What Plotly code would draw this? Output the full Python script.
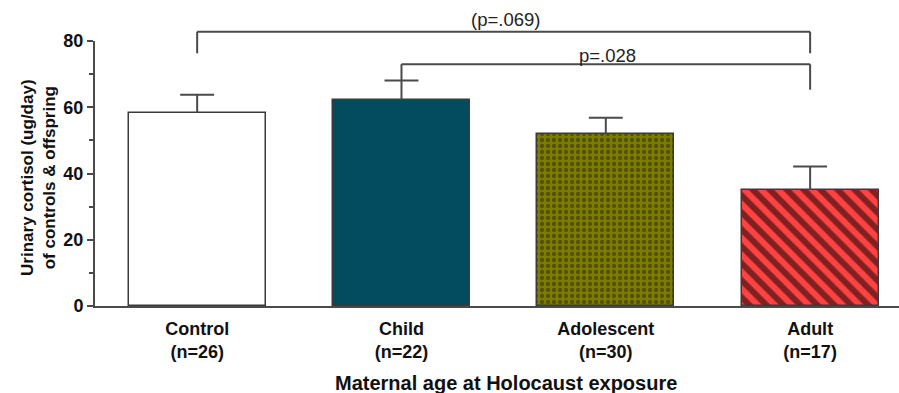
import plotly.graph_objects as go

# Urinary cortisol by maternal age at Holocaust exposure
groups = ["Control", "Child", "Adolescent", "Adult"]
n_sizes = [26, 22, 30, 17]
means = [58.3, 62.3, 51.8, 35.0]
sem = [5.5, 5.8, 5.0, 7.1]

y_ticks = [0, 20, 40, 60, 80]
y_minor = [10, 30, 50, 70]
Y_MAX = 80

# Significance brackets: (left group, right group, bar height, left leg end, right leg end, label, label y)
brackets = [
    (0, 3, 82.8, 76.3, 76.3, "(p=.069)", 86.4),
    (1, 3, 73.0, 68.1, 65.3, "p=.028", 75.6),
]

FONT = "Liberation Sans, Arial, sans-serif"
LINE = "#4a4a4a"
X_RANGE = [-0.5, 3.435]
BAR_W = 0.67
CAP_HALF = 0.083  # half-length of the error-bar cap, in category units

fig = go.Figure()

fills = ["#ffffff", "#034b5f", "#7c7c00", "#ff4242"]
patterns = [
    dict(shape=""),
    dict(shape=""),
    dict(shape=".", fgcolor="#262600", bgcolor="#7c7c00", size=6, solidity=0.4, fillmode="overlay"),
    dict(shape="\\", fgcolor="#000000", bgcolor="#ff4242", size=12, solidity=0.5, fillmode="overlay"),
]

for i, g in enumerate(groups):
    fig.add_trace(go.Bar(
        x=[i], y=[means[i]], width=BAR_W,
        marker=dict(color=fills[i], line=dict(color="#3a3a3a", width=1.5), pattern=patterns[i]),
        showlegend=False, hoverinfo="skip",
    ))


def py(v):
    return v / Y_MAX


shapes = []
annotations = []

# one-sided (upper) SEM bars
for i, (m, e) in enumerate(zip(means, sem)):
    shapes.append(dict(type="line", xref="x", yref="y", x0=i, x1=i, y0=m, y1=m + e,
                       line=dict(color=LINE, width=2)))
    shapes.append(dict(type="line", xref="x", yref="y", x0=i - CAP_HALF, x1=i + CAP_HALF,
                       y0=m + e, y1=m + e, line=dict(color=LINE, width=2)))

for a, b, top, la, lb, label, ly in brackets:
    shapes.append(dict(type="line", xref="x", yref="paper", x0=a, x1=b, y0=py(top), y1=py(top),
                       line=dict(color=LINE, width=2)))
    shapes.append(dict(type="line", xref="x", yref="paper", x0=a, x1=a, y0=py(top), y1=py(la),
                       line=dict(color=LINE, width=2)))
    shapes.append(dict(type="line", xref="x", yref="paper", x0=b, x1=b, y0=py(top), y1=py(lb),
                       line=dict(color=LINE, width=2)))
    annotations.append(dict(x=(a + b) / 2 + 0.01, y=py(ly), xref="x", yref="paper", text=label,
                            showarrow=False, xanchor="center", yanchor="middle",
                            font=dict(family=FONT, size=18.5, color="#222222")))

annotations.append(dict(x=0.511, y=-0.29, xref="paper", yref="paper",
                        text="Maternal age at Holocaust exposure", showarrow=False,
                        xanchor="center", yanchor="middle",
                        font=dict(family=FONT, size=20, color="#111111", weight="bold")))
annotations.append(dict(x=-0.071, y=0.483, xref="paper", yref="paper",
                        text="Urinary cortisol (ug/day)<br>of controls & offspring", showarrow=False,
                        textangle=-90, xanchor="center", yanchor="middle",
                        font=dict(family=FONT, size=17, color="#111111", weight="bold")))

fig.update_layout(
    width=899, height=393,
    margin=dict(l=95, r=0, t=41, b=87),
    plot_bgcolor="white", paper_bgcolor="white",
    bargap=0, shapes=shapes, annotations=annotations,
    xaxis=dict(range=X_RANGE, tickmode="array", tickvals=list(range(len(groups))),
               ticktext=[f"{g}<br>(n={n})" for g, n in zip(groups, n_sizes)],
               showline=True, linecolor=LINE, linewidth=2, ticks="", showgrid=False,
               zeroline=False, ticklabelstandoff=5,
               tickfont=dict(family=FONT, size=18, color="#111111", weight="bold")),
    yaxis=dict(range=[0, Y_MAX], tickmode="array", tickvals=y_ticks,
               showline=True, linecolor=LINE, linewidth=2, ticks="outside", ticklen=6,
               tickwidth=2, tickcolor=LINE, showgrid=False, zeroline=False,
               minor=dict(tickmode="array", tickvals=y_minor, ticks="outside", ticklen=4,
                          tickwidth=1.5, tickcolor=LINE, showgrid=False),
               tickfont=dict(family=FONT, size=18, color="#111111", weight="bold")),
)

fig.write_html("out.html")
